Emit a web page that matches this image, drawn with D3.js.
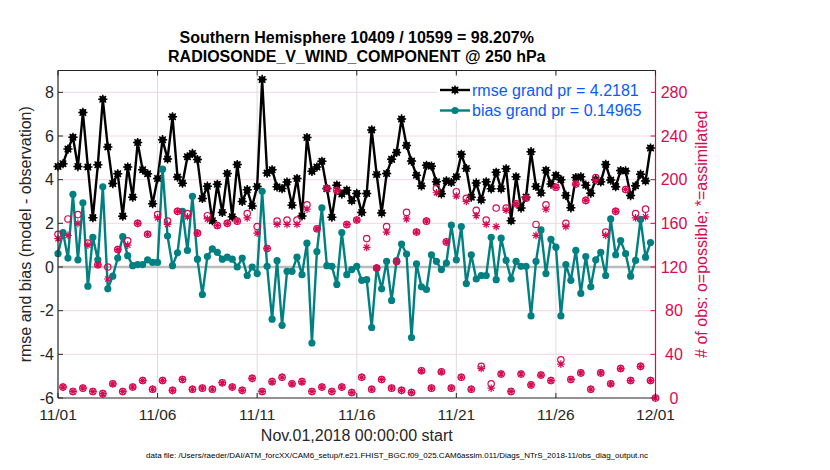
<!DOCTYPE html>
<html><head><meta charset="utf-8">
<script src="https://cdn.jsdelivr.net/npm/d3@7"></script>
<style>body{margin:0;background:#fff}svg{display:block}text{font-family:"Liberation Sans",Arial,Helvetica,sans-serif}</style>
</head><body>
<svg id="c" width="830" height="470"></svg>
<script>
// ---- data ----
const xTickDays = [0, 5, 10, 15, 20, 25, 30];
const xTickLabels = ["11/01", "11/06", "11/11", "11/16", "11/21", "11/26", "12/01"];
const leftTicks = [-6, -4, -2, 0, 2, 4, 6, 8];
const rightTicks = [0, 40, 80, 120, 160, 200, 240, 280];
const stepDays = 0.25; // 6-hourly

const rmse = [4.6,4.73,5.4,5.94,4.6,7.08,4.58,2.26,4.68,7.68,5.5,3.82,4.27,2.33,4.58,3.2,5.7,4.45,4.27,2.9,
4.05,5.83,4.95,6.88,4.12,3.84,5.05,5.2,4.92,3.14,3.7,2.12,3.79,2.5,4.28,2.3,4.69,3.0,3.54,2.79,
3.69,8.59,4.3,4.45,3.67,3.59,3.89,2.83,4.05,2.34,5.93,4.38,4.58,4.84,3.59,2.28,3.75,3.34,3.52,3.04,
3.37,2.5,3.37,6.28,4.24,2.47,4.28,4.93,5.25,6.78,5.57,4.85,4.2,3.71,4.66,4.62,3.9,3.35,3.95,3.87,
4.13,5.16,4.51,3.2,3.85,3.07,3.9,3.58,4.34,3.58,4.5,2.12,4.13,2.7,3.2,5.28,3.69,3.39,4.43,3.8,
4.2,4.0,3.28,2.71,4.1,4.13,3.75,3.38,4.0,3.9,4.7,3.98,3.68,4.42,4.4,3.27,3.72,4.25,3.94,5.45];

const bias = [0.61,1.58,0.41,3.33,0.33,2.94,-0.88,1.36,0.33,3.67,-1.0,-0.42,0.41,1.39,0.52,0.06,0.11,0.11,0.33,0.21,
0.21,4.48,1.42,0.06,0.65,2.55,0.76,3.24,0.36,-1.26,0.48,0.83,0.67,0.36,0.45,0.36,0.0,0.41,-0.39,0.0,
-0.3,3.47,0.03,-2.39,0.29,-2.67,-0.2,-0.2,0.45,-0.35,1.09,-3.48,0.71,2.71,0.06,0.03,-0.8,1.58,-0.35,-0.12,
0.03,-0.61,-0.58,-2.77,-0.05,-1.0,0.26,-1.53,0.29,1.05,0.59,-3.23,0.15,-0.91,-1.03,0.56,0.26,-0.12,0.18,1.92,
0.33,1.85,-0.76,0.56,-0.55,-0.39,-0.39,1.36,-0.58,1.32,0.3,-0.55,0.26,0.03,0.03,-2.24,0.26,1.7,-0.3,1.27,
0.91,-2.24,0.11,-0.61,0.76,-1.21,0.48,-0.91,0.33,0.67,-0.39,2.2,0.56,1.21,0.61,-0.42,0.3,2.18,0.45,1.12];

const nPossible = [150,10,164,6,168,9,142,6,122,4,120,13,136,6,144,10,160,16,150,8,
168,16,162,7,171,17,169,8,151,9,167,8,158,14,160,10,162,7,169,18,
157,6,137,15,162,19,163,13,163,15,177,6,155,10,192,6,190,10,159,5,
163,19,146,8,119,17,157,9,125,7,170,5,152,25,162,9,192,24,143,9,
189,19,183,8,172,29,163,13,174,22,174,6,178,22,183,12,159,21,177,16,
193,35,160,17,196,23,181,8,202,23,152,13,171,27,191,16,169,29,173,16,0];

const nAssim = [146,10,149,6,160,9,140,6,122,4,109,13,136,6,140,10,160,16,150,8,
165,16,159,7,171,17,166,8,151,9,164,8,158,14,160,10,162,7,165,18,
151,6,137,15,159,19,159,13,159,15,173,6,155,10,192,6,190,10,159,5,
163,19,138,8,119,17,152,9,125,7,164,5,152,25,162,9,188,24,143,9,
185,19,180,8,167,27,159,9,157,22,172,6,178,22,183,12,149,21,173,16,
193,31,157,17,196,23,181,8,199,23,149,13,171,27,191,16,165,29,166,16,0];

const titleLines = ["Southern Hemisphere 10409 / 10599 = 98.207%", "RADIOSONDE_V_WIND_COMPONENT @ 250 hPa"];
const legendLabels = ["rmse grand pr = 4.2181", "bias grand pr = 0.14965"];

// ---- drawing ----
const svg = d3.select("#c");
const L = 58, R = 655.5, T = 70.5, B = 398;
const x = d3.scaleLinear().domain([0, 30]).range([L, R]);
const yL = d3.scaleLinear().domain([-6, 9]).range([B, T]);
const yR = d3.scaleLinear().domain([0, 300]).range([B, T]);
const txt = "#262626", red = "#d70a53", teal = "#008080", blue = "#0a5aff";
const tOf = i => i * stepDays;

// grid
const g = svg.append("g");
g.selectAll(".vg").data(xTickDays.slice(1, -1)).join("line")
  .attr("x1", d => x(d)).attr("x2", d => x(d)).attr("y1", T).attr("y2", B)
  .attr("stroke", "#dcdcdc").attr("stroke-width", 1);
g.selectAll(".hg").data(rightTicks.slice(1)).join("line")
  .attr("x1", L).attr("x2", R).attr("y1", d => yR(d)).attr("y2", d => yR(d))
  .attr("stroke", "#f3d6e0").attr("stroke-width", 1);
// zero line
g.append("line").attr("x1", L).attr("x2", R).attr("y1", yL(0)).attr("y2", yL(0))
  .attr("stroke", "#bcbcbc").attr("stroke-width", 2.5);

function starPath(cx, cy, r) {
  let p = "";
  [0, 45, 90, 135].forEach(a => {
    const rad = a * Math.PI / 180, dx = r * Math.cos(rad), dy = r * Math.sin(rad);
    p += `M${cx - dx},${cy - dy}L${cx + dx},${cy + dy}`;
  });
  return p;
}

// rmse
const lineL = d3.line().x((d, i) => x(tOf(i))).y(d => yL(d));
svg.append("path").attr("d", lineL(rmse)).attr("fill", "none").attr("stroke", "#000").attr("stroke-width", 2.4).attr("stroke-linejoin", "round");
const rm = svg.append("g");
rmse.forEach((d, i) => {
  rm.append("circle").attr("cx", x(tOf(i))).attr("cy", yL(d)).attr("r", 3.3).attr("fill", "#000");
  rm.append("path").attr("d", starPath(x(tOf(i)), yL(d), 4.6)).attr("stroke", "#000").attr("stroke-width", 1.5);
});
// bias
svg.append("path").attr("d", lineL(bias)).attr("fill", "none").attr("stroke", teal).attr("stroke-width", 2.4).attr("stroke-linejoin", "round");
svg.append("g").selectAll("circle").data(bias).join("circle")
  .attr("cx", (d, i) => x(tOf(i))).attr("cy", d => yL(d)).attr("r", 3.6).attr("fill", teal);

// obs counts
const og = svg.append("g");
nPossible.forEach((d, i) => {
  og.append("circle").attr("cx", x(tOf(i))).attr("cy", yR(d)).attr("r", 3.2)
    .attr("fill", "none").attr("stroke", red).attr("stroke-width", 1.2);
});
nAssim.forEach((d, i) => {
  og.append("path").attr("d", starPath(x(tOf(i)), yR(d), 3.8)).attr("stroke", red).attr("stroke-width", 1.2);
});

// axes frame
svg.append("line").attr("x1", L).attr("x2", R).attr("y1", T).attr("y2", T).attr("stroke", "#262626").attr("stroke-width", 1.2);
svg.append("line").attr("x1", L).attr("x2", R).attr("y1", B).attr("y2", B).attr("stroke", "#262626").attr("stroke-width", 1.2);
svg.append("line").attr("x1", L).attr("x2", L).attr("y1", T).attr("y2", B).attr("stroke", "#262626").attr("stroke-width", 1.2);
svg.append("line").attr("x1", R).attr("x2", R).attr("y1", T).attr("y2", B).attr("stroke", red).attr("stroke-width", 1.2);

// x ticks
const xt = svg.append("g");
xTickDays.forEach((d, k) => {
  xt.append("line").attr("x1", x(d)).attr("x2", x(d)).attr("y1", B).attr("y2", B - 5).attr("stroke", "#262626");
  xt.append("line").attr("x1", x(d)).attr("x2", x(d)).attr("y1", T).attr("y2", T + 5).attr("stroke", "#262626");
  xt.append("text").attr("x", x(d)).attr("y", 420).attr("text-anchor", "middle")
    .attr("font-size", 15.5).attr("fill", txt).text(xTickLabels[k]);
});
// left ticks
const ylt = svg.append("g");
leftTicks.forEach(d => {
  ylt.append("line").attr("x1", L).attr("x2", L + 5).attr("y1", yL(d)).attr("y2", yL(d)).attr("stroke", "#262626");
  ylt.append("text").attr("x", 54).attr("y", yL(d) + 5.5).attr("text-anchor", "end")
    .attr("font-size", 16).attr("fill", txt).text(d < 0 ? "-" + Math.abs(d) : d);
});
// right ticks
const yrt = svg.append("g");
rightTicks.forEach(d => {
  yrt.append("line").attr("x1", R).attr("x2", R - 5).attr("y1", yR(d)).attr("y2", yR(d)).attr("stroke", red);
  yrt.append("text").attr("x", 674).attr("y", yR(d) + 5.5).attr("text-anchor", "middle")
    .attr("font-size", 16).attr("fill", red).text(d);
});

// titles & labels
svg.append("text").attr("x", (L + R) / 2).attr("y", 42.5).attr("text-anchor", "middle")
  .attr("font-size", 16).attr("font-weight", "bold").attr("fill", "#000").text(titleLines[0]);
svg.append("text").attr("x", (L + R) / 2).attr("y", 61.5).attr("text-anchor", "middle")
  .attr("font-size", 16).attr("font-weight", "bold").attr("fill", "#000").text(titleLines[1]);
svg.append("text").attr("transform", `translate(31,${(T + B) / 2}) rotate(-90)`).attr("text-anchor", "middle")
  .attr("font-size", 16).attr("fill", txt).text("rmse and bias (model - observation)");
svg.append("text").attr("transform", `translate(707,${(T + B) / 2}) rotate(-90)`).attr("text-anchor", "middle")
  .attr("font-size", 16).attr("fill", red).text("# of obs: o=possible; *=assimilated");
svg.append("text").attr("x", (L + R) / 2).attr("y", 441).attr("text-anchor", "middle")
  .attr("font-size", 16).attr("fill", txt).text("Nov.01,2018 00:00:00 start");
svg.append("text").attr("x", 397).attr("y", 457.5).attr("text-anchor", "middle")
  .attr("font-size", 8).attr("fill", "#000").attr("textLength", 502).attr("lengthAdjust", "spacingAndGlyphs")
  .text("data file: /Users/raeder/DAI/ATM_forcXX/CAM6_setup/f.e21.FHIST_BGC.f09_025.CAM6assim.011/Diags_NTrS_2018-11/obs_diag_output.nc");

// legend
const lg = svg.append("g");
lg.append("rect").attr("x", 437).attr("y", 76).attr("width", 214).attr("height", 44).attr("fill", "#fff");
const legY = [90, 110.5];
const legCol = ["#000", teal];
legY.forEach((yy, k) => {
  lg.append("line").attr("x1", 440).attr("x2", 470).attr("y1", yy).attr("y2", yy).attr("stroke", legCol[k]).attr("stroke-width", 2.4);
  lg.append("circle").attr("cx", 455).attr("cy", yy).attr("r", k === 0 ? 3.3 : 3.6).attr("fill", legCol[k]);
  if (k === 0) lg.append("path").attr("d", starPath(455, yy, 4.6)).attr("stroke", "#000").attr("stroke-width", 1.5);
  lg.append("text").attr("x", 472).attr("y", yy + 5.5).attr("font-size", 16).attr("fill", blue).text(legendLabels[k]);
});
</script>
</body></html>
